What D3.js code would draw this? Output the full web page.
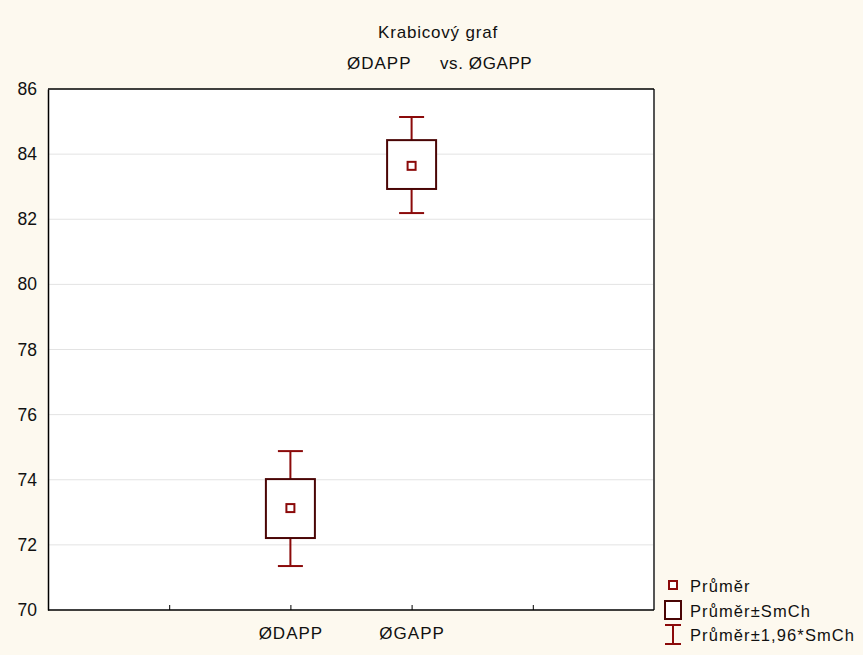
<!DOCTYPE html>
<html>
<head>
<meta charset="utf-8">
<script src="https://cdn.jsdelivr.net/npm/d3@7"></script>
<style>
  body { margin: 0; background: #fdf9ef; }
  text { font-family: "Liberation Sans", Arial, sans-serif; fill: #111; }
</style>
</head>
<body>
<div id="chart"></div>
<script>
// data
const categories = ['ØDAPP', 'ØGAPP'];
const means = [73.13, 83.64];
const seLow = [72.21, 82.93];
const seHigh = [74.02, 84.43];
const ciLow = [71.35, 82.19];
const ciHigh = [74.88, 85.14];
const yTicks = [70, 72, 74, 76, 78, 80, 82, 84, 86];

const width = 863, height = 655;
const margin = { left: 48, right: 209, top: 89, bottom: 45 };
const plotW = width - margin.left - margin.right;
const plotH = height - margin.top - margin.bottom;
const red = '#8b0a0a';
const boxColor = '#4a0505';
const font = '"Liberation Sans", Arial, sans-serif';

const svg = d3.select('#chart').append('svg')
  .attr('width', width)
  .attr('height', height);

const x = d3.scaleLinear().domain([0, 5]).range([margin.left, margin.left + plotW]);
const y = d3.scaleLinear().domain([70, 86]).range([margin.top + plotH, margin.top]);

// plot background
svg.append('rect')
  .attr('x', margin.left).attr('y', margin.top)
  .attr('width', plotW).attr('height', plotH)
  .attr('fill', '#fff');

// grid lines
svg.append('g').selectAll('line')
  .data(yTicks.slice(1, -1))
  .join('line')
  .attr('x1', margin.left).attr('x2', margin.left + plotW)
  .attr('y1', d => y(d)).attr('y2', d => y(d))
  .attr('stroke', '#e3e3e3').attr('stroke-width', 1);

// frame
svg.append('line')
  .attr('x1', margin.left + plotW).attr('x2', margin.left + plotW)
  .attr('y1', margin.top).attr('y2', margin.top + plotH)
  .attr('stroke', '#555').attr('stroke-width', 2);
svg.append('line')
  .attr('x1', margin.left).attr('x2', margin.left + plotW)
  .attr('y1', margin.top).attr('y2', margin.top)
  .attr('stroke', '#000').attr('stroke-width', 1.5);

// y axis
const yAxis = svg.append('g')
  .attr('transform', `translate(${margin.left},0)`)
  .call(d3.axisLeft(y).tickValues(yTicks).tickSize(0).tickPadding(11).tickFormat(d3.format('d')));
yAxis.select('.domain').attr('stroke', '#000').attr('stroke-width', 1.5);
yAxis.selectAll('text').attr('font-size', 17.5).attr('font-family', font).attr('fill', '#111');

// x axis
const xAxis = svg.append('g')
  .attr('transform', `translate(0,${margin.top + plotH})`)
  .call(d3.axisBottom(x).tickValues([1, 2, 3, 4]).tickSize(-5).tickPadding(17)
    .tickFormat(d => (d === 2 || d === 3) ? categories[d - 2] : ''));
xAxis.select('.domain').attr('stroke', '#000').attr('stroke-width', 1.5).attr('d', `M${margin.left},0H${margin.left + plotW}`);
xAxis.selectAll('line').attr('stroke', '#000');
xAxis.selectAll('text').attr('font-size', 17).attr('letter-spacing', 1).attr('font-family', font).attr('fill', '#111');

// boxes
const boxW = 49, capW = 25, meanS = 8;
const g = svg.append('g');
categories.forEach((c, i) => {
  const cx = x(i + 2);
  // whiskers
  g.append('line').attr('x1', cx).attr('x2', cx).attr('y1', y(ciHigh[i])).attr('y2', y(seHigh[i]))
    .attr('stroke', red).attr('stroke-width', 2);
  g.append('line').attr('x1', cx).attr('x2', cx).attr('y1', y(seLow[i])).attr('y2', y(ciLow[i]))
    .attr('stroke', red).attr('stroke-width', 2);
  g.append('line').attr('x1', cx - capW / 2).attr('x2', cx + capW / 2).attr('y1', y(ciHigh[i])).attr('y2', y(ciHigh[i]))
    .attr('stroke', red).attr('stroke-width', 2);
  g.append('line').attr('x1', cx - capW / 2).attr('x2', cx + capW / 2).attr('y1', y(ciLow[i])).attr('y2', y(ciLow[i]))
    .attr('stroke', red).attr('stroke-width', 2);
  // box
  g.append('rect')
    .attr('x', cx - boxW / 2).attr('y', y(seHigh[i]))
    .attr('width', boxW).attr('height', y(seLow[i]) - y(seHigh[i]))
    .attr('fill', '#fff').attr('stroke', boxColor).attr('stroke-width', 2);
  // mean
  g.append('rect')
    .attr('x', cx - meanS / 2).attr('y', y(means[i]) - meanS / 2)
    .attr('width', meanS).attr('height', meanS)
    .attr('fill', '#fff').attr('stroke', red).attr('stroke-width', 2);
});

// titles
svg.append('text').attr('x', 438).attr('y', 38).attr('text-anchor', 'middle')
  .attr('font-size', 17).attr('letter-spacing', 0.8).text('Krabicový graf');
svg.append('text').attr('x', 347).attr('y', 69)
  .attr('font-size', 17).attr('letter-spacing', 1).text('ØDAPP');
svg.append('text').attr('x', 440).attr('y', 69)
  .attr('font-size', 17).attr('letter-spacing', 0.6).text('vs. ØGAPP');

// legend
const lg = svg.append('g');
lg.append('rect').attr('x', 669).attr('y', 581).attr('width', 8).attr('height', 8)
  .attr('fill', '#fff').attr('stroke', red).attr('stroke-width', 2);
lg.append('text').attr('x', 690).attr('y', 592).attr('font-size', 16.5).attr('letter-spacing', 1.1).text('Průměr');
lg.append('rect').attr('x', 665).attr('y', 601).attr('width', 16).attr('height', 18)
  .attr('fill', '#fff').attr('stroke', boxColor).attr('stroke-width', 2);
lg.append('text').attr('x', 690).attr('y', 617).attr('font-size', 16.5).attr('letter-spacing', 1.1).text('Průměr±SmCh');
lg.append('line').attr('x1', 673).attr('x2', 673).attr('y1', 625).attr('y2', 644).attr('stroke', red).attr('stroke-width', 2);
lg.append('line').attr('x1', 665).attr('x2', 681).attr('y1', 625).attr('y2', 625).attr('stroke', red).attr('stroke-width', 2);
lg.append('line').attr('x1', 665).attr('x2', 681).attr('y1', 644).attr('y2', 644).attr('stroke', red).attr('stroke-width', 2);
lg.append('text').attr('x', 690).attr('y', 641).attr('font-size', 16.5).attr('letter-spacing', 1.1).text('Průměr±1,96*SmCh');
</script>
</body>
</html>
